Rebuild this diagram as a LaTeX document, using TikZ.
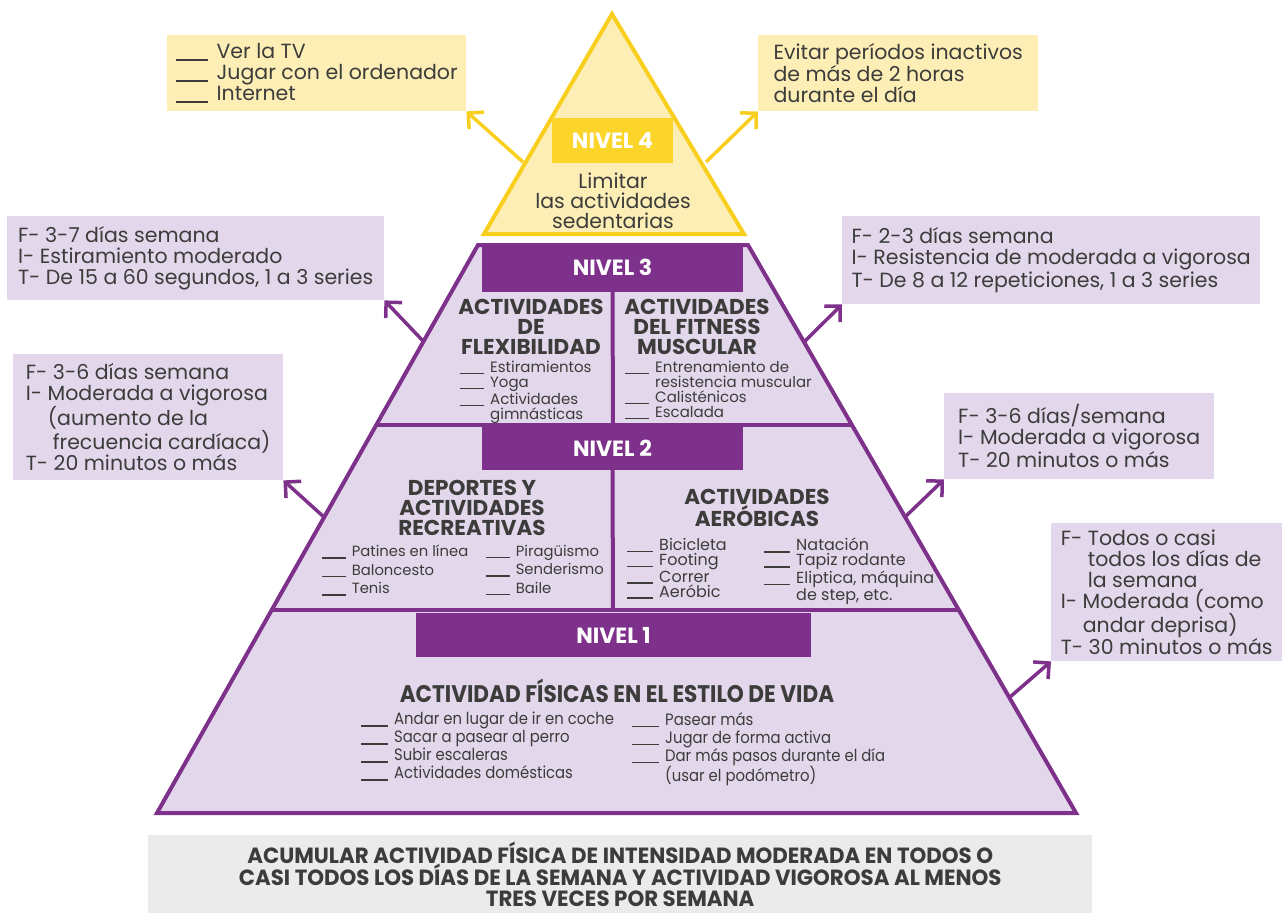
\documentclass[tikz,border=0pt]{standalone}
\usepackage{fontspec}
\setmainfont{Poppins}
\newfontfamily\estrecha[FakeStretch=0.9]{Poppins}
\newfontfamily\estrechab[FakeStretch=0.97]{Poppins}
\usepackage{tikz}
\usetikzlibrary{arrows.meta}

\definecolor{morado}{HTML}{7E318A}
\definecolor{moradoclaro}{HTML}{E2D7EB}
\definecolor{amarillo}{HTML}{F9CF1F}
\definecolor{amarillobarra}{HTML}{FCD52B}
\definecolor{amarilloclaro}{HTML}{FDEEB6}
\definecolor{gris}{HTML}{EBEBEB}
\definecolor{texto}{HTML}{3C3C3B}

\newcommand{\raya}{\makebox[2em][l]{\rule[-0.12em]{1.6em}{0.09em}}}
\newcommand{\sinraya}{\hspace*{2em}}
\newcommand{\tam}[2]{\fontsize{#1}{#2}\selectfont}

\begin{document}
\begin{tikzpicture}[x=1pt, y=-1pt,
    cajaY/.style={fill=amarilloclaro, anchor=north west, align=left, inner sep=0pt, text=texto, font=\tam{20.5}{21}},
    cajaP/.style={cajaY, fill=moradoclaro},
    nivel/.style={fill=morado, text=white, font=\bfseries\tam{22}{20}, inner sep=0pt},
    titulo/.style={align=center, text=texto, inner sep=0pt, font=\bfseries\tam{21.5}{20}},
    lista/.style={anchor=north west, align=left, text=texto, inner sep=0pt, font=\tam{15}{15}},
    divisor/.style={draw=morado, line width=4pt},
    flechaY/.style={draw=amarillo, line width=3.5pt, -{Straight Barb[angle=90:16pt]}},
    flechaP/.style={flechaY, draw=morado},
  ]
  \useasboundingbox (0,0) rectangle (1287,913);

  % Piramide
  \draw[amarillo, line width=4pt, fill=amarilloclaro] (612,14) -- (744,234) -- (484,234) -- cycle;
  \fill[moradoclaro] (478,245) -- (748,245) -- (1076,813) -- (157,813) -- cycle;
  \node[nivel, fill=amarillobarra, minimum width=121, minimum height=45] (n4) at (612.5,140.5) {NIVEL 4};
  \node[nivel, minimum width=261, minimum height=49] (n3) at (612.5,267.5) {NIVEL 3};
  \node[nivel, minimum width=261, minimum height=43] (n2) at (612.5,448.5) {NIVEL 2};
  \node[nivel, minimum width=395, minimum height=44] (n1) at (613.5,635) {NIVEL 1};
  \draw[divisor] (376,425) -- (852,425);
  \draw[divisor] (272,610) -- (959,610);
  \draw[divisor] (n3.south) -- (613,425);
  \draw[divisor] (n2.south) -- (613,610);
  \draw[divisor, line join=miter] (478,245) -- (748,245) -- (1076,813) -- (157,813) -- cycle;

  % Textos de la piramide
  \node[align=center, text=texto, font=\tam{20.5}{20}] (t4) at (613,201) {Limitar\\las actividades\\sedentarias};
  \node[titulo] (t3a) at (531,327) {ACTIVIDADES\\DE\\FLEXIBILIDAD};
  \node[lista] (l3a) at (460,361) {\raya Estiramientos\\\raya Yoga\\\raya Actividades\\\sinraya gimnásticas};
  \node[titulo] (t3b) at (697,327) {ACTIVIDADES\\DEL FITNESS\\MUSCULAR};
  \node[lista] (l3b) at (625,361) {\raya Entrenamiento de\\\sinraya resistencia muscular\\\raya Calisténicos\\\raya Escalada};
  \node[titulo] (t2a) at (472,508) {DEPORTES Y\\ACTIVIDADES\\RECREATIVAS};
  \node[lista, font=\tam{14.8}{18.5}] (l2a) at (322,545) {\raya Patines en línea\\\raya Baloncesto\\\raya Tenis};
  \node[lista, font=\tam{14.8}{18.5}] (l2b) at (486,545) {\raya Piragüismo\\\raya Senderismo\\\raya Baile};
  \node[titulo] (t2c) at (757,508) {ACTIVIDADES\\AERÓBICAS};
  \node[lista, font=\tam{16}{15}] (l2c) at (627,538) {\raya Bicicleta\\\raya Footing\\\raya Correr\\\raya Aeróbic};
  \node[lista, font=\tam{16}{15}] (l2d) at (764,538) {\raya Natación\\\raya Tapiz rodante\\\raya Eliptica, máquina\\\sinraya de step, etc.};
  \node[titulo, font=\estrecha\bfseries\tam{24}{20}] (t1) at (617,691) {ACTIVIDAD FÍSICAS EN EL ESTILO DE VIDA};
  \node[lista, font=\estrecha\tam{16.5}{18}] (l1a) at (361,712) {\raya Andar en lugar de ir en coche\\\raya Sacar a pasear al perro\\\raya Subir escaleras\\\raya Actividades domésticas};
  \node[lista, font=\estrecha\tam{16.5}{18}] (l1b) at (632,712) {\raya Pasear más\\\raya Jugar de forma activa\\\raya Dar más pasos durante el día\\\sinraya(usar el podómetro)};

  % Cajas laterales
  \node[cajaY, minimum width=299, minimum height=76] (cy1) at (167,35) {\raya Ver la TV\\\raya Jugar con el ordenador\\\raya Internet};
  \node[cajaY, minimum width=280, minimum height=76] (cy2) at (758,35) {Evitar períodos inactivos\\de más de 2 horas\\durante el día};
  \node[cajaP, minimum width=377, minimum height=84] (cp3a) at (7,216) {F- 3-7 días semana\\I- Estiramiento moderado\\T- De 15 a 60 segundos, 1 a 3 series};
  \node[cajaP, minimum width=418, minimum height=88] (cp3b) at (842,216) {F- 2-3 días semana\\I- Resistencia de moderada a vigorosa\\T- De 8 a 12 repeticiones, 1 a 3 series};
  \node[cajaP, minimum width=270, minimum height=126] (cp2a) at (13,354) {F- 3-6 días semana\\I- Moderada a vigorosa\\\hspace*{22pt}(aumento de la\\\hspace*{27pt}frecuencia cardíaca)\\T- 20 minutos o más};
  \node[cajaP, minimum width=270, minimum height=86] (cp2b) at (944,393) {F- 3-6 días/semana\\I- Moderada a vigorosa\\T- 20 minutos o más};
  \node[cajaP, minimum width=231, minimum height=138] (cp1) at (1051,523) {F- Todos o casi\\\hspace*{27pt}todos los días de\\\hspace*{27pt}la semana\\I- Moderada (como\\\hspace*{22pt}andar deprisa)\\T- 30 minutos o más};
  \node[fill=gris, anchor=north west, minimum width=944, minimum height=78, align=center, text=texto, font=\estrechab\bfseries\tam{22}{20.5}] (base) at (148,835) {ACUMULAR ACTIVIDAD FÍSICA DE INTENSIDAD MODERADA EN TODOS O\\CASI TODOS LOS DÍAS DE LA SEMANA Y ACTIVIDAD VIGOROSA AL MENOS\\TRES VECES POR SEMANA};

  % Flechas
  \coordinate (e4a) at (523,162);
  \coordinate (e4b) at (706,162);
  \coordinate (e3a) at (424,342);
  \coordinate (e3b) at (804,342);
  \coordinate (e2a) at (325,518);
  \coordinate (e2b) at (905,517);
  \coordinate (e1) at (1010,697);
  \draw[flechaY] (e4a) -- (cy1.south east);
  \draw[flechaY] (e4b) -- (cy2.south west);
  \draw[flechaP] (e3a) -- (cp3a.south east);
  \draw[flechaP] (e3b) -- (cp3b.south west);
  \draw[flechaP] (e2a) -- (cp2a.south east);
  \draw[flechaP] (e2b) -- (cp2b.south west);
  \draw[flechaP] (e1) -- (cp1.south west);
\end{tikzpicture}
\end{document}
